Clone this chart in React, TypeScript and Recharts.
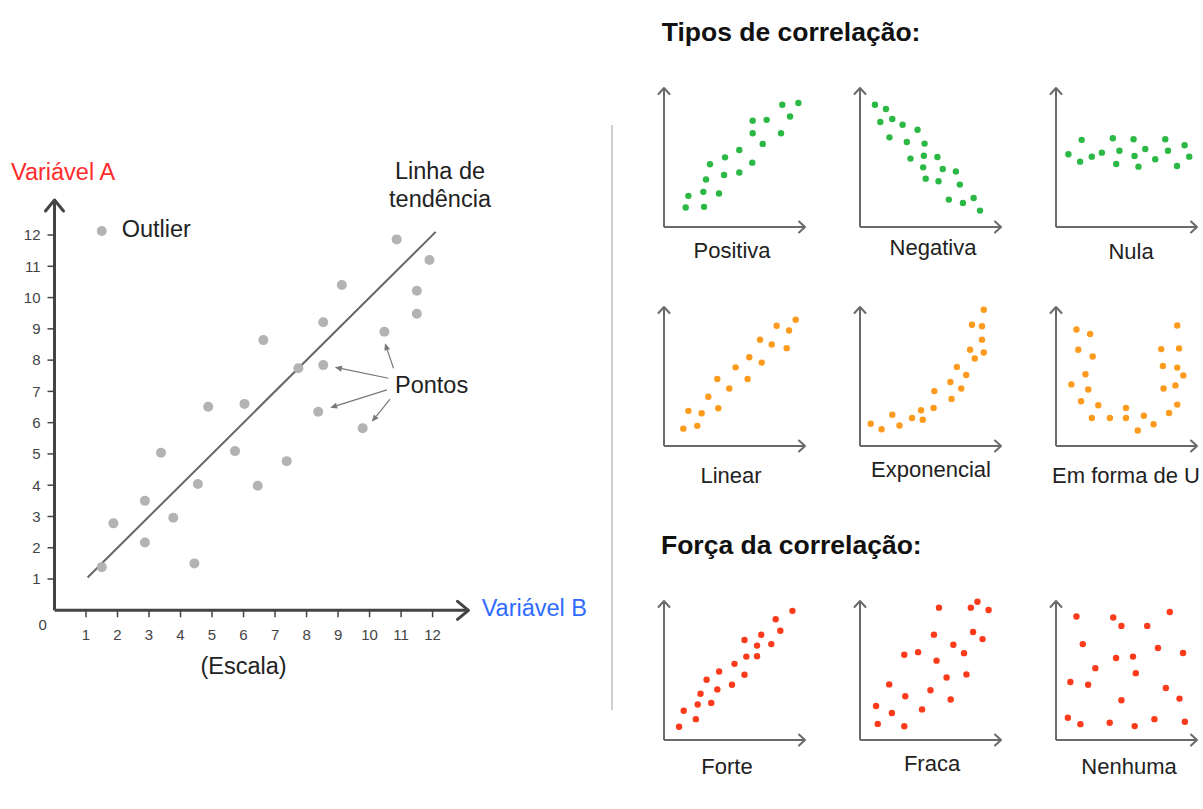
import React from "react";
import { ScatterChart, Scatter, XAxis, YAxis, ReferenceLine, ReferenceDot } from "recharts";

// ---- main chart data (Variável B, Variável A)
const mainTicks = [1, 2, 3, 4, 5, 6, 7, 8, 9, 10, 11, 12];
const mainPoints: [number, number][] = [
  [1.5, 1.38], [1.87, 2.78], [2.87, 3.5], [2.87, 2.17], [3.38, 5.04], [3.77, 2.96],
  [4.44, 1.5], [4.55, 4.04], [4.88, 6.51], [5.73, 5.09], [6.03, 6.6], [6.45, 3.98],
  [6.63, 8.64], [7.37, 4.77], [7.74, 7.74], [8.53, 9.21], [8.53, 7.84], [9.12, 10.4],
  [8.37, 6.35], [9.78, 5.82], [10.47, 8.91], [10.86, 11.86], [11.9, 11.2], [11.5, 10.22],
  [11.5, 9.48],
];
const outlier: [number, number][] = [[1.5, 12.13]];
const trendLine: [number, number][] = [[1.05, 1.05], [12.1, 12.1]];
// "Pontos" callout arrows: [from, to]
const pontosArrows: [number, number][][] = [
  [[10.6, 7.42], [8.9, 7.77]],
  [[10.76, 7.74], [10.49, 8.54]],
  [[10.55, 7.05], [8.75, 6.48]],
  [[10.65, 6.75], [10.07, 6.03]],
];

// ---- small charts (0..10 on both axes)
const positiva: [number, number][] = [
  [1.54, 1.4], [1.73, 2.24], [2.84, 1.45], [2.79, 2.53], [2.98, 3.42], [3.9, 2.41], [3.26, 4.51],
  [4.26, 3.74], [4.33, 5.01], [5.34, 3.92], [5.34, 5.54], [6.26, 4.63], [6.29, 6.75], [6.29, 7.64],
  [7.0, 5.98], [7.28, 7.71], [8.3, 6.75], [8.39, 8.8], [8.94, 7.95], [9.53, 8.92],
];
const negativa: [number, number][] = [
  [1.06, 8.8], [1.84, 8.49], [1.44, 7.55], [2.29, 7.77], [3.02, 7.36], [4.08, 7.0], [2.09, 6.45],
  [3.32, 6.12], [4.58, 6.0], [3.58, 4.92], [4.53, 5.13], [5.49, 5.04], [4.48, 4.29], [5.87, 4.17],
  [6.8, 4.0], [4.66, 3.48], [5.57, 3.29], [7.08, 3.05], [6.3, 1.97], [7.3, 1.73], [8.06, 2.09],
  [8.51, 1.18],
];
const nula: [number, number][] = [
  [0.88, 5.23], [1.82, 6.27], [1.71, 4.7], [2.54, 5.06], [3.25, 5.35], [4.03, 6.39], [4.5, 5.49],
  [4.27, 4.53], [5.5, 6.31], [5.57, 5.11], [5.85, 4.34], [6.33, 5.61], [7.04, 4.87], [7.75, 6.31],
  [7.94, 5.49], [8.58, 4.39], [9.12, 5.88], [9.45, 5.06],
];
const linear: [number, number][] = [
  [1.37, 1.25], [1.73, 2.53], [2.36, 1.45], [2.67, 2.36], [3.14, 3.54], [3.85, 2.72], [3.78, 4.82],
  [4.63, 4.14], [5.08, 5.66], [5.93, 4.82], [6.05, 6.39], [6.93, 6.0], [6.81, 7.64], [7.64, 7.3],
  [7.99, 8.65], [8.7, 7.04], [8.87, 8.31], [9.34, 9.08],
];
const exponencial: [number, number][] = [
  [0.76, 1.6], [1.53, 1.21], [2.29, 2.25], [2.8, 1.48], [3.69, 2.01], [4.33, 2.57], [4.45, 1.89],
  [5.22, 2.74], [5.27, 3.95], [6.41, 4.6], [6.49, 3.39], [6.87, 5.69], [7.18, 4.14], [7.53, 5.11],
  [7.81, 6.92], [8.14, 6.3], [7.94, 8.72], [8.65, 8.62], [8.65, 7.65], [8.78, 6.73], [8.78, 9.8],
];
const formaU: [number, number][] = [
  [1.45, 8.38], [2.42, 8.06], [1.58, 6.92], [2.6, 6.44], [2.09, 5.16], [1.09, 4.43], [2.29, 4.07],
  [1.78, 3.22], [3.0, 2.93], [2.54, 2.01], [3.82, 2.01], [4.96, 2.74], [4.96, 2.01], [5.8, 1.11],
  [6.23, 2.18], [6.92, 1.57], [8.02, 2.37], [8.6, 2.98], [7.63, 4.14], [8.47, 4.36], [7.58, 5.76],
  [8.6, 5.64], [9.03, 5.08], [7.46, 6.97], [8.73, 7.02], [8.6, 8.67],
];
const forte: [number, number][] = [
  [1.07, 0.95], [1.4, 2.1], [2.26, 1.5], [2.39, 2.55], [2.59, 3.33], [3.35, 2.67], [3.02, 4.33],
  [3.78, 3.64], [3.91, 4.93], [4.82, 3.98], [5.0, 5.48], [5.71, 4.69], [5.84, 6.0], [5.71, 7.19],
  [6.6, 6.02], [6.6, 6.79], [6.9, 7.57], [7.61, 6.9], [7.92, 8.69], [8.25, 7.86], [9.11, 9.29],
];
const fraca: [number, number][] = [
  [1.14, 2.45], [1.26, 1.16], [2.26, 1.94], [2.07, 4.0], [3.14, 0.99], [3.21, 3.15], [3.14, 6.13],
  [4.12, 6.32], [4.4, 2.2], [5.0, 3.58], [5.43, 5.71], [5.24, 7.58], [5.6, 9.52], [6.14, 4.5],
  [6.43, 2.91], [6.62, 6.85], [7.38, 6.25], [7.55, 4.72], [7.86, 9.52], [8.33, 9.95], [8.02, 7.77],
  [8.69, 7.26], [9.12, 9.35],
];
const nenhuma: [number, number][] = [
  [1.45, 8.88], [1.9, 6.9], [1.02, 4.17], [2.28, 3.98], [2.79, 5.17], [0.84, 1.6], [1.73, 1.14],
  [4.06, 8.81], [4.64, 8.21], [4.26, 5.9], [5.46, 6.0], [5.66, 4.81], [4.64, 2.86], [3.81, 1.24],
  [5.58, 1.0], [6.47, 8.21], [7.23, 6.62], [6.98, 1.5], [8.07, 9.21], [9.01, 6.26], [7.79, 3.74],
  [8.76, 2.98], [9.14, 1.31],
];

const GREEN = "#2cb845";
const ORANGE = "#fd9b1f";
const RED = "#fb3b1b";
const FONT = "'Liberation Sans', Arial, Helvetica, sans-serif";

const toXY = (pts: [number, number][]) => pts.map(([x, y]) => ({ x, y }));

const chevron = (dir: "up" | "right", s: number, d: number, color: string, w: number) => (p: any) => {
  const { cx, cy } = p;
  const path =
    dir === "up"
      ? `M${cx - s},${cy + d} L${cx},${cy} L${cx + s},${cy + d}`
      : `M${cx - d},${cy - s} L${cx},${cy} L${cx - d},${cy + s}`;
  return <path d={path} fill="none" stroke={color} strokeWidth={w} strokeLinecap="round" strokeLinejoin="round" />;
};

const arrowLine = (p: any) => {
  const { x1, y1, x2, y2 } = p;
  const a = Math.atan2(y2 - y1, x2 - x1);
  const L = 7;
  const W = 3;
  const bx = x2 - L * Math.cos(a);
  const by = y2 - L * Math.sin(a);
  const px = -Math.sin(a) * W;
  const py = Math.cos(a) * W;
  return (
    <g>
      <line x1={x1} y1={y1} x2={bx} y2={by} stroke="#777" strokeWidth={1.2} />
      <path d={`M${x2},${y2} L${bx + px},${by + py} L${bx - px},${by - py} Z`} fill="#777" />
    </g>
  );
};

function Txt({ x, y, children, size = 23.5, color = "#222", weight = 400, anchor = "start" }: any) {
  const tx = anchor === "middle" ? "-50%" : anchor === "end" ? "-100%" : "0";
  return (
    <div
      style={{
        position: "absolute",
        left: x,
        top: y,
        transform: `translate(${tx}, -50%)`,
        whiteSpace: "nowrap",
        fontFamily: FONT,
        fontSize: size,
        fontWeight: weight,
        lineHeight: 1,
        color,
      }}
    >
      {children}
    </div>
  );
}

const X_MAX = 13.14;
const Y_MAX = 13.12;

function MainChart() {
  const axisColor = "#444";
  return (
    <div style={{ position: "absolute", left: 0, top: 0 }}>
      <ScatterChart width={480.5} height={660} margin={{ top: 200, right: 12, bottom: 19.7, left: 0 }}>
        <XAxis
          type="number"
          dataKey="x"
          domain={[0, X_MAX]}
          ticks={mainTicks}
          height={30}
          tickSize={7}
          tickMargin={12}
          axisLine={{ stroke: axisColor, strokeWidth: 3 }}
          tickLine={{ stroke: axisColor, strokeWidth: 1.5 }}
          tick={{ fill: "#444", fontSize: 15, fontFamily: FONT }}
        />
        <YAxis
          type="number"
          dataKey="y"
          domain={[0, Y_MAX]}
          ticks={mainTicks}
          width={54.5}
          tickSize={7}
          tickMargin={7}
          axisLine={{ stroke: axisColor, strokeWidth: 3 }}
          tickLine={{ stroke: axisColor, strokeWidth: 1.5 }}
          tick={{ fill: "#444", fontSize: 15, fontFamily: FONT }}
        />
        <ReferenceLine
          segment={trendLine.map(([x, y]) => ({ x, y }))}
          stroke="#666"
          strokeWidth={2}
        />
        {pontosArrows.map((seg, i) => (
          <ReferenceLine key={i} segment={seg.map(([x, y]) => ({ x, y }))} shape={arrowLine} ifOverflow="visible" />
        ))}
        <Scatter
          data={toXY(mainPoints)}
          isAnimationActive={false}
          shape={(p: any) => <circle cx={p.cx} cy={p.cy} r={5} fill="#b3b3b3" />}
        />
        <Scatter
          data={toXY(outlier)}
          isAnimationActive={false}
          shape={(p: any) => <circle cx={p.cx} cy={p.cy} r={5} fill="#b3b3b3" />}
        />
        <ReferenceDot x={0} y={Y_MAX} r={0} ifOverflow="visible" shape={chevron("up", 9, 11, axisColor, 3)} />
        <ReferenceDot x={X_MAX} y={0} r={0} ifOverflow="visible" shape={chevron("right", 9, 11, axisColor, 3)} />
      </ScatterChart>
    </div>
  );
}

const colX = [664, 860, 1056];
const rowTop = [88, 306.5, 600.5];
const PW = 141;
const PH = 139;

function SmallChart({ data, color, col, row }: any) {
  const axisColor = "#6a6a6a";
  return (
    <div style={{ position: "absolute", left: colX[col] - 10, top: rowTop[row] - 10 }}>
      <ScatterChart width={PW + 20} height={PH + 20} margin={{ top: 10, right: 10, bottom: 9, left: 9 }}>
        <XAxis
          type="number"
          dataKey="x"
          domain={[0, 10]}
          height={1}
          tick={false}
          tickLine={false}
          axisLine={{ stroke: axisColor, strokeWidth: 2 }}
        />
        <YAxis
          type="number"
          dataKey="y"
          domain={[0, 10]}
          width={1}
          tick={false}
          tickLine={false}
          axisLine={{ stroke: axisColor, strokeWidth: 2 }}
        />
        <Scatter
          data={toXY(data)}
          isAnimationActive={false}
          shape={(p: any) => <circle cx={p.cx} cy={p.cy} r={3.2} fill={color} />}
        />
        <ReferenceDot x={0} y={10} r={0} ifOverflow="visible" shape={chevron("up", 5.5, 6, axisColor, 2)} />
        <ReferenceDot x={10} y={0} r={0} ifOverflow="visible" shape={chevron("right", 5.5, 6, axisColor, 2)} />
      </ScatterChart>
    </div>
  );
}

const smallCharts = [
  { name: "Positiva", data: positiva, color: GREEN, col: 0, row: 0, lx: 732, ly: 251 },
  { name: "Negativa", data: negativa, color: GREEN, col: 1, row: 0, lx: 933, ly: 248 },
  { name: "Nula", data: nula, color: GREEN, col: 2, row: 0, lx: 1131, ly: 252 },
  { name: "Linear", data: linear, color: ORANGE, col: 0, row: 1, lx: 731, ly: 476 },
  { name: "Exponencial", data: exponencial, color: ORANGE, col: 1, row: 1, lx: 931, ly: 470 },
  { name: "Em forma de U", data: formaU, color: ORANGE, col: 2, row: 1, lx: 1126, ly: 476 },
  { name: "Forte", data: forte, color: RED, col: 0, row: 2, lx: 727, ly: 767 },
  { name: "Fraca", data: fraca, color: RED, col: 1, row: 2, lx: 932, ly: 764 },
  { name: "Nenhuma", data: nenhuma, color: RED, col: 2, row: 2, lx: 1129, ly: 767 },
];

export default function App() {
  return (
    <div
      style={{
        position: "absolute",
        left: 0,
        top: 0,
        width: 1203,
        height: 809,
        background: "#fff",
        overflow: "hidden",
      }}
    >
      <MainChart />
      <Txt x={11} y={172.7} color="#ff2b2b">Variável A</Txt>
      <Txt x={121.7} y={230}>Outlier</Txt>
      <Txt x={440} y={171.7} anchor="middle">Linha de</Txt>
      <Txt x={440} y={200} anchor="middle">tendência</Txt>
      <Txt x={395} y={385.7}>Pontos</Txt>
      <Txt x={481.7} y={609.3} color="#2f6bff">Variável B</Txt>
      <Txt x={243.5} y={666.7} anchor="middle">(Escala)</Txt>
      <Txt x={42.7} y={624} size={15} color="#444" anchor="middle">0</Txt>

      <div style={{ position: "absolute", left: 611, top: 125, width: 1.5, height: 585, background: "#cfcfcf" }} />

      <Txt x={661.7} y={31.7} size={26.5} weight={700} color="#111">Tipos de correlação:</Txt>
      <Txt x={661} y={545} size={26.5} weight={700} color="#111">Força da correlação:</Txt>

      {smallCharts.map((c) => (
        <React.Fragment key={c.name}>
          <SmallChart data={c.data} color={c.color} col={c.col} row={c.row} />
          <Txt x={c.lx} y={c.ly} size={22} anchor="middle">{c.name}</Txt>
        </React.Fragment>
      ))}
    </div>
  );
}
